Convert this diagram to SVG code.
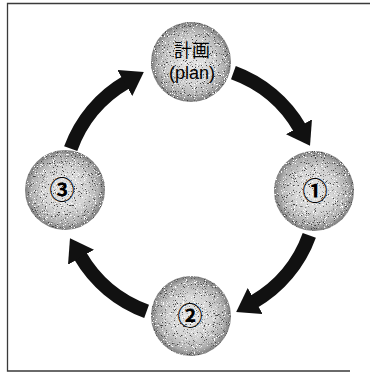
<svg xmlns="http://www.w3.org/2000/svg" width="370" height="375" viewBox="0 0 370 375">
  <defs>
    <style>
      .frame { fill: none; stroke: #3a3a3a; stroke-width: 1.3; }
      .ball { fill: url(#ballGrad); filter: url(#grain); }
      .arc { fill: none; stroke: #111; stroke-width: 14; marker-end: url(#head); }
      .lbl { font-family: "Liberation Sans", "Noto Sans CJK JP", sans-serif; fill: #000; text-anchor: middle; }
      .num { font-family: "Noto Sans CJK JP", "DejaVu Sans", sans-serif; font-size: 25px; font-weight: bold; fill: #000; text-anchor: middle; }
    </style>
    <radialGradient id="ballGrad" cx="50%" cy="50%" r="50%">
      <stop offset="0" stop-color="#e6e6e6"/>
      <stop offset="0.55" stop-color="#d2d2d2"/>
      <stop offset="0.85" stop-color="#adadad"/>
      <stop offset="1" stop-color="#7c7c7c"/>
    </radialGradient>
    <filter id="grain" x="-5%" y="-5%" width="110%" height="110%" color-interpolation-filters="sRGB">
      <feTurbulence type="fractalNoise" baseFrequency="0.9" numOctaves="2" seed="7" result="noise"/>
      <feColorMatrix in="noise" type="matrix" values="0 0 0 0 0.25  0 0 0 0 0.25  0 0 0 0 0.25  -9 0 0 0 3.4" result="dark"/>
      <feComposite in="dark" in2="SourceGraphic" operator="in" result="darkIn"/>
      <feColorMatrix in="noise" type="matrix" values="0 0 0 0 1  0 0 0 0 1  0 0 0 0 1  0 9 0 0 -5.6" result="light"/>
      <feComposite in="light" in2="SourceGraphic" operator="in" result="lightIn"/>
      <feMerge>
        <feMergeNode in="SourceGraphic"/>
        <feMergeNode in="darkIn"/>
        <feMergeNode in="lightIn"/>
      </feMerge>
    </filter>
    <marker id="head" markerUnits="userSpaceOnUse" markerWidth="22" markerHeight="30" viewBox="0 0 22 30" refX="2" refY="15" orient="auto">
      <path d="M0,0 L22,15 L0,30 Z" fill="#111"/>
    </marker>
  </defs>

  <rect width="370" height="375" fill="#fff"/>
  <path class="frame" d="M370,3.5 H7.5 V371 H350"/>

  <g id="connectors">
    <path id="plan-to-1" class="arc" d="M233.4,72.7 A127,127 0 0 1 300,128.5"/>
    <path id="1-to-2" class="arc" d="M309.3,235.4 A127,127 0 0 1 253.5,302"/>
    <path id="2-to-3" class="arc" d="M146.6,311.3 A127,127 0 0 1 80,255.5"/>
    <path id="3-to-plan" class="arc" d="M70.7,148.6 A127,127 0 0 1 126.5,82"/>
  </g>

  <g id="node-plan">
    <circle class="ball" cx="191" cy="62" r="40"/>
    <text class="lbl" x="192" y="57" font-size="18">計画</text>
    <text class="lbl" x="192" y="79" font-size="18">(plan)</text>
  </g>
  <g id="node-1">
    <circle class="ball" cx="314" cy="191" r="40"/>
    <text class="num" x="315" y="200">①</text>
  </g>
  <g id="node-2">
    <circle class="ball" cx="191" cy="316" r="40"/>
    <text class="num" x="190" y="325">②</text>
  </g>
  <g id="node-3">
    <circle class="ball" cx="65" cy="190" r="40"/>
    <text class="num" x="62" y="199">③</text>
  </g>
</svg>
